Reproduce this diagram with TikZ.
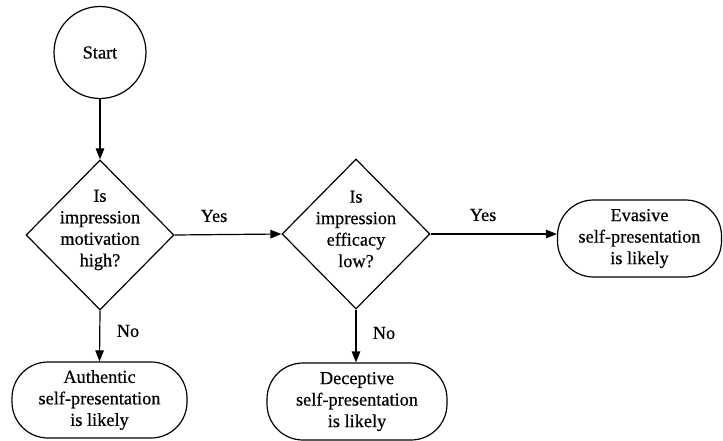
\documentclass[tikz,border=0pt]{standalone}
\usepackage{fontspec}
\setmainfont{Liberation Serif}
\newfontfamily\heavyserif[FakeBold=0.5]{Liberation Serif}
\usetikzlibrary{shapes.geometric,arrows.meta}
\begin{document}
\begin{tikzpicture}[x=1pt,y=-1pt,
  every node/.style={font=\heavyserif\fontsize{18.3}{21.5}\selectfont},
  arr/.style={line width=1.2pt,-{Triangle[length=11pt,width=8.5pt]}},
  dshape/.style={draw,line width=1.2pt,diamond,minimum width=148pt,minimum height=150pt,inner sep=0pt},
  txt/.style={align=center,inner sep=0pt},
  termbox/.style={draw,line width=1.2pt,rounded corners=36pt,align=center,inner sep=0pt}]
\useasboundingbox (0,0) rectangle (723,441);
\node[draw,line width=1.2pt,circle,minimum size=92pt,inner sep=0pt] (start) at (100,52.5) {Start};
\node[dshape] (d1) at (100,235) {};
\node[txt] (d1t) at (100,230) {Is\\impression\\motivation\\high?};
\node[dshape] (d2) at (356,234) {};
\node[txt] (d2t) at (356,229) {Is\\impression\\efficacy\\low?};
\node[termbox,minimum width=175pt,minimum height=76pt] (auth) at (99.5,400) {Authentic\\self-presentation\\is likely};
\node[termbox,minimum width=180pt,minimum height=77pt] (dec) at (357,401.5) {Deceptive\\self-presentation\\is likely};
\node[termbox,minimum width=164pt,minimum height=77pt] (eva) at (639.5,238.5) {Evasive\\self-presentation\\is likely};
\draw[arr] (start) -- (d1.north);
\draw[arr] (d1.south) -- (auth.north);
\draw[arr] (d1.east) -- (d2.west);
\draw[arr] (d2.south) -- (dec.north -| d2.south);
\draw[arr] (d2.east) -- (eva.west |- d2.east);
\node (yes1) at (214,216) {Yes};
\node (yes2) at (483,215) {Yes};
\node (no1) at (128,331) {No};
\node (no2) at (384,333) {No};
\end{tikzpicture}
\end{document}
